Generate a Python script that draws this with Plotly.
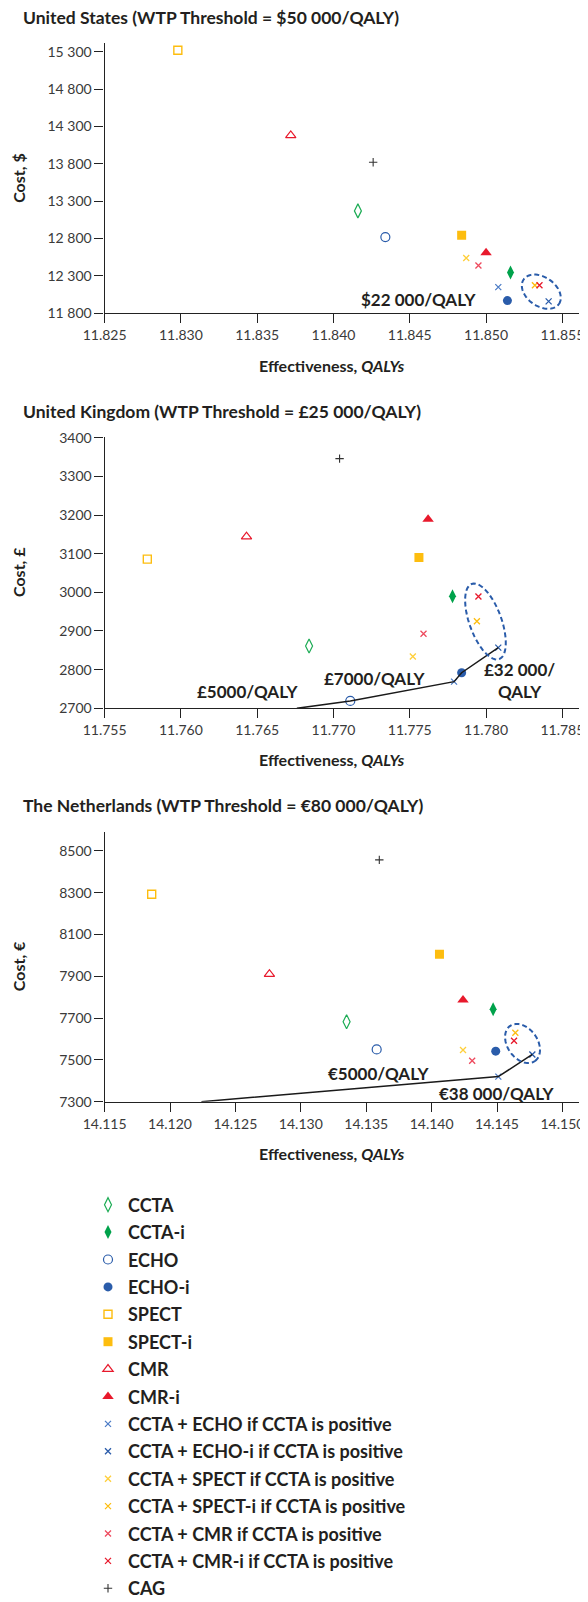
import numpy as np
import plotly.graph_objects as go

# page is 588x1602; the html body keeps its default 8px margin
W, H = 588, 1602
OFF = 8
FW, FH = W - OFF, H - OFF
FONT = "Lato"
INK = "#231f20"

strategies = [
    "CCTA", "CCTA-i", "ECHO", "ECHO-i", "SPECT", "SPECT-i", "CMR", "CMR-i",
    "CCTA + ECHO if CCTA is positive", "CCTA + ECHO-i if CCTA is positive",
    "CCTA + SPECT if CCTA is positive", "CCTA + SPECT-i if CCTA is positive",
    "CCTA + CMR if CCTA is positive", "CCTA + CMR-i if CCTA is positive",
    "CAG",
]

# effectiveness (QALYs) and cost per strategy, same order as above
us_qaly = [11.8416, 11.8516, 11.8434, 11.8514, 11.8298, 11.8484, 11.8372, 11.8500,
           11.8508, 11.8541, 11.8487, 11.8532, 11.8495, 11.8535, 11.8426]
us_cost = [13170, 12345, 12820, 11970, 15320, 12845, 14180, 12610,
           12150, 11960, 12540, 12175, 12440, 12175, 13820]

uk_qaly = [11.7684, 11.7778, 11.7711, 11.7784, 11.7578, 11.7756, 11.7643, 11.7762,
           11.7779, 11.7808, 11.7752, 11.7794, 11.7759, 11.7795, 11.7704]
uk_cost = [2861, 2990, 2719, 2792, 3086, 3090, 3144, 3189,
           2769, 2857, 2834, 2925, 2893, 2989, 3346]

nl_qaly = [14.1335, 14.1447, 14.1358, 14.1449, 14.1186, 14.1406, 14.1276, 14.1424,
           14.1451, 14.1477, 14.1424, 14.1464, 14.1431, 14.1463, 14.1360]
nl_cost = [7683, 7742, 7550, 7542, 8293, 8005, 7910, 7787,
           7420, 7526, 7547, 7630, 7496, 7592, 8457]

# efficiency frontier: start point on the x axis, then strategies on the line
uk_frontier_start = (11.7676, 2700)
uk_frontier = ["ECHO", "CCTA + ECHO if CCTA is positive", "ECHO-i",
               "CCTA + ECHO-i if CCTA is positive"]
nl_frontier_start = (14.1224, 7300)
nl_frontier = ["CCTA + ECHO if CCTA is positive", "CCTA + ECHO-i if CCTA is positive"]

us_yticks = [11800, 12300, 12800, 13300, 13800, 14300, 14800, 15300]
uk_yticks = [2700, 2800, 2900, 3000, 3100, 3200, 3300, 3400]
nl_yticks = [7300, 7500, 7700, 7900, 8100, 8300, 8500]
us_xticks = [11.825, 11.830, 11.835, 11.840, 11.845, 11.850, 11.855]
uk_xticks = [11.755, 11.760, 11.765, 11.770, 11.775, 11.780, 11.785]
nl_xticks = [14.115, 14.120, 14.125, 14.130, 14.135, 14.140, 14.145, 14.150]

GREEN, GREEN_L = "#00a24b", "#1dac55"
BLUE, BLUE_L = "#2a5caa", "#4c7cc6"
YELLOW, YELLOW_L = "#fdbd0f", "#ffcf3a"
RED, RED_L = "#e8192c", "#ee4a5e"

styles = {
    "CCTA": dict(symbol="diamond-tall-open", color=GREEN_L, size=10, lw=1.2),
    "CCTA-i": dict(symbol="diamond-tall", color=GREEN, size=10, lw=0),
    "ECHO": dict(symbol="circle-open", color=BLUE, size=9, lw=1.2),
    "ECHO-i": dict(symbol="circle", color=BLUE, size=9, lw=0),
    "SPECT": dict(symbol="square-open", color=YELLOW, size=8, lw=1.4),
    "SPECT-i": dict(symbol="square", color=YELLOW, size=9, lw=0),
    "CMR": dict(symbol="triangle-up-open", color=RED, size=9, lw=1.2),
    "CMR-i": dict(symbol="triangle-up", color=RED, size=10, lw=0),
    "CCTA + ECHO if CCTA is positive": dict(symbol="x-thin", color=BLUE_L, size=6, lw=1.3),
    "CCTA + ECHO-i if CCTA is positive": dict(symbol="x-thin", color=BLUE, size=6, lw=1.3),
    "CCTA + SPECT if CCTA is positive": dict(symbol="x-thin", color=YELLOW_L, size=6, lw=1.3),
    "CCTA + SPECT-i if CCTA is positive": dict(symbol="x-thin", color=YELLOW, size=6, lw=1.3),
    "CCTA + CMR if CCTA is positive": dict(symbol="x-thin", color=RED_L, size=6, lw=1.3),
    "CCTA + CMR-i if CCTA is positive": dict(symbol="x-thin", color=RED, size=6, lw=1.3),
    "CAG": dict(symbol="cross-thin", color="#333333", size=6, lw=1.1),
}


def px_x(px):
    return (px - OFF) / FW


def px_y(py):
    return 1 - (py - OFF) / FH


# panel geometry in page pixels (left, right, top, bottom of the plot area)
PX_L, PX_R = 104.6, 579.3
panels = [
    dict(ax="", title="United States (WTP Threshold = $50 000/QALY)", ytitle="Cost, $",
         q=us_qaly, c=us_cost, xr=[11.825, 11.85611], yr=[11800, 15412],
         top=43.3, bot=313.3, title_y=17.3, xt_y=365,
         xt=us_xticks, yt=us_yticks, yfmt="sp"),
    dict(ax="2", title="United Kingdom (WTP Threshold = £25 000/QALY)", ytitle="Cost, £",
         q=uk_qaly, c=uk_cost, xr=[11.755, 11.78611], yr=[2700, 3402.6],
         top=436.7, bot=708.3, title_y=411.7, xt_y=759.3,
         xt=uk_xticks, yt=uk_yticks, yfmt="plain"),
    dict(ax="3", title="The Netherlands (WTP Threshold = €80 000/QALY)", ytitle="Cost, €",
         q=nl_qaly, c=nl_cost, xr=[14.115, 14.15129], yr=[7300, 8592],
         top=831.7, bot=1101.7, title_y=805, xt_y=1153.3,
         xt=nl_xticks, yt=nl_yticks, yfmt="plain"),
]


def fmt_y(v, mode):
    if mode == "sp" and v >= 10000:
        return f"{v:,}".replace(",", " ")
    return str(v)


fig = go.Figure()
annotations = []
shapes = []

for i, p in enumerate(panels):
    xa, ya = "x" + p["ax"], "y" + p["ax"]
    for k, name in enumerate(strategies):
        st = styles[name]
        fig.add_trace(go.Scatter(
            x=[p["q"][k]], y=[p["c"][k]],
            xaxis=xa, yaxis=ya,
            mode="markers",
            name=name,
            legendgroup=name,
            showlegend=(i == 0),
            marker=dict(symbol=st["symbol"], size=st["size"], color=st["color"],
                        line=dict(color=st["color"], width=st["lw"])),
            hovertemplate=f"<b>{name}</b><br>%{{x:.4f}} QALYs<br>%{{y:,.0f}}<extra></extra>",
        ))

    xkey = "xaxis" + p["ax"]
    ykey = "yaxis" + p["ax"]
    axis_common = dict(
        showline=True, linecolor="#222222", linewidth=1.3,
        ticks="outside", ticklen=9, tickwidth=1.3, tickcolor="#222222",
        showgrid=False, zeroline=False, automargin=False,
        tickfont=dict(family=FONT, size=14, color="#3a3a3a"),
    )
    fig.update_layout(**{
        xkey: dict(**axis_common, domain=[px_x(PX_L), px_x(PX_R)], range=p["xr"],
                   anchor=ya, tickvals=p["xt"],
                   ticktext=[f"{v:.3f}" for v in p["xt"]]),
        ykey: dict(**axis_common, domain=[px_y(p["bot"]), px_y(p["top"])],
                   range=p["yr"], anchor=xa, tickvals=p["yt"],
                   ticktext=[fmt_y(v, p["yfmt"]) for v in p["yt"]]),
    })

    annotations.append(dict(
        text=f"<b>{p['title']}</b>", xref="paper", yref="paper",
        x=px_x(21.4), y=px_y(p["title_y"]), xanchor="left", yanchor="middle",
        showarrow=False, font=dict(family=FONT, size=17.5, color=INK),
    ))
    annotations.append(dict(
        text="<b>Effectiveness, <i>QALYs</i></b>", xref="paper", yref="paper",
        x=px_x(331.7), y=px_y(p["xt_y"]), xanchor="center", yanchor="middle",
        showarrow=False, font=dict(family=FONT, size=16, color=INK),
    ))
    annotations.append(dict(
        text=f"<b>{p['ytitle']}</b>", xref="paper", yref="paper", textangle=-90,
        x=px_x(18.5), y=px_y((p["top"] + p["bot"]) / 2), xanchor="center",
        yanchor="middle", showarrow=False, font=dict(family=FONT, size=16, color=INK),
    ))

# frontier lines
for p, start, names in [(panels[1], uk_frontier_start, uk_frontier),
                        (panels[2], nl_frontier_start, nl_frontier)]:
    fx = [start[0]] + [p["q"][strategies.index(n)] for n in names]
    fy = [start[1]] + [p["c"][strategies.index(n)] for n in names]
    fig.add_trace(go.Scatter(
        x=fx, y=fy, xaxis="x" + p["ax"], yaxis="y" + p["ax"], mode="lines",
        line=dict(color="#1a1a1a", width=1.5), showlegend=False, hoverinfo="skip",
    ))


# dashed ellipses around the dominant cluster, sized in pixels
def ellipse_path(p, cx, cy, a, b, ang_deg, n=72):
    xppu = (PX_R - PX_L) / (p["xr"][1] - p["xr"][0])
    yppu = (p["bot"] - p["top"]) / (p["yr"][1] - p["yr"][0])
    t = np.linspace(0, 2 * np.pi, n)
    ang = np.radians(ang_deg)
    dx = a * np.cos(t) * np.cos(ang) - b * np.sin(t) * np.sin(ang)
    dy = a * np.cos(t) * np.sin(ang) + b * np.sin(t) * np.cos(ang)
    xs = cx + dx / xppu
    ys = cy + dy / yppu
    return "M " + " L ".join(f"{x:.6f},{y:.3f}" for x, y in zip(xs, ys)) + " Z"


ellipses = [
    (panels[0], 11.85362, 12089, 21.5, 14.5, -35),
    (panels[1], 11.77996, 2924.5, 40, 16, -70),
    (panels[2], 14.14695, 7578.6, 21.5, 15, -54.5),
]
for p, cx, cy, a, b, ang in ellipses:
    shapes.append(dict(
        type="path", xref="x" + p["ax"], yref="y" + p["ax"],
        path=ellipse_path(p, cx, cy, a, b, ang),
        line=dict(color=BLUE, width=2, dash="5px,3px"),
    ))

# threshold labels
labels = [
    ("", 11.84558, 11991, "$22 000/QALY"),
    ("2", 11.76439, 2743, "£5000/QALY"),
    ("2", 11.77268, 2776, "£7000/QALY"),
    ("2", 11.78222, 2772, "£32 000/<br>QALY"),
    ("3", 14.13593, 7433, "€5000/QALY"),
    ("3", 14.14498, 7337, "€38 000/QALY"),
]
for ax, x, y, txt in labels:
    annotations.append(dict(
        text=f"<b>{txt}</b>", xref="x" + ax, yref="y" + ax, x=x, y=y,
        xanchor="center", yanchor="middle", showarrow=False,
        font=dict(family=FONT, size=17, color=INK),
    ))

fig.update_layout(
    width=FW, height=FH,
    margin=dict(l=0, r=0, t=0, b=0, autoexpand=False),
    paper_bgcolor="white", plot_bgcolor="white",
    font=dict(family=FONT, color=INK),
    annotations=annotations,
    shapes=shapes,
    showlegend=True,
    legend=dict(
        x=px_x(88), y=px_y(1186.5), xanchor="left", yanchor="top",
        font=dict(family=FONT, size=18, color=INK, weight="bold"),
        bgcolor="rgba(0,0,0,0)", tracegroupgap=1.0, itemsizing="trace",
        maxheight=800,
    ),
)

fig.write_html("out.html")
